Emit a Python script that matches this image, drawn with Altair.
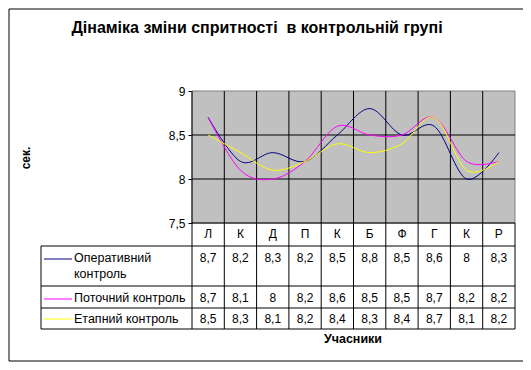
import altair as alt
import pandas as pd

categories = ["Л", "К", "Д", "П", "К", "Б", "Ф", "Г", "К", "Р"]
series_names = ["Оперативний контроль", "Поточний контроль", "Етапний контроль"]
series_labels = ["Оперативний\nконтроль", "Поточний контроль", "Етапний контроль"]
operative = [8.7, 8.2, 8.3, 8.2, 8.5, 8.8, 8.5, 8.6, 8.0, 8.3]
current = [8.7, 8.1, 8.0, 8.2, 8.6, 8.5, 8.5, 8.7, 8.2, 8.2]
stage = [8.5, 8.3, 8.1, 8.2, 8.4, 8.3, 8.4, 8.7, 8.1, 8.2]
y_ticks = [7.5, 8.0, 8.5, 9.0]
grid_values = [8.0, 8.5]
colors = ["#000080", "#FF00FF", "#FFFF00"]

title_text = "Дінаміка зміни спритності\u00a0 в контрольній групі"
y_title = "сек."
x_title = "Учасники"

W = 323
H_PLOT = 132
H = 238
FONT = "Liberation Sans"

rows = []
for s, vals in zip(series_names, [operative, current, stage]):
    for i, (c, v) in enumerate(zip(categories, vals)):
        rows.append({"series": s, "idx": i, "pos": i + 0.5, "cat": c, "value": v,
                     "label": f"{v:g}".replace(".", ",")})
df = pd.DataFrame(rows)

xs = alt.Scale(domain=[0, 10], range=[0, W], nice=False, zero=False)
ys = alt.Scale(domain=[7.5, 9], range=[H_PLOT, 0], nice=False, zero=False)
yaxis = alt.Axis(values=y_ticks, labelExpr="replace(toString(datum.value), '.', ',')",
                 grid=False, domainColor="black", tickColor="black", tickSize=4,
                 labelPadding=3, labelFont=FONT, labelFontSize=12, labelColor="black",
                 title=None, domainWidth=1, tickWidth=1)

one = pd.DataFrame({"k": [0]})
layers = []

# outer border
layers.append(alt.Chart(one).mark_rect(fillOpacity=0, stroke="black", strokeWidth=1).encode(
    x=alt.value(-183), x2=alt.value(332), y=alt.value(-82), y2=alt.value(270)))

# plot background
bg = pd.DataFrame({"x0": [0], "x1": [10], "y0": [7.5], "y1": [9.0]})
layers.append(alt.Chart(bg).mark_rect(fill="#C0C0C0", stroke="#808080", strokeWidth=1).encode(
    x=alt.X("x0:Q", scale=xs, axis=None), x2="x1:Q",
    y=alt.Y("y0:Q", scale=ys, axis=yaxis), y2="y1:Q"))

# horizontal gridlines
gdf = pd.DataFrame({"g": grid_values})
layers.append(alt.Chart(gdf).mark_rule(color="black", strokeWidth=1).encode(
    y=alt.Y("g:Q", scale=ys, axis=yaxis), x=alt.value(0), x2=alt.value(W)))

# vertical category boundaries
vdf = pd.DataFrame({"b": list(range(0, 10))})
layers.append(alt.Chart(vdf).mark_rule(color="black", strokeWidth=1).encode(
    x=alt.X("b:Q", scale=xs, axis=None), y=alt.value(0), y2=alt.value(H)))
layers.append(alt.Chart(one).mark_rule(color="black", strokeWidth=1).encode(
    x=alt.value(W), y=alt.value(H_PLOT), y2=alt.value(H)))

# table horizontal lines
layers.append(alt.Chart(one).mark_rule(color="black", strokeWidth=1).encode(
    x=alt.value(0), x2=alt.value(W), y=alt.value(H_PLOT)))
for yl in [155, 195, 217, H]:
    layers.append(alt.Chart(one).mark_rule(color="black", strokeWidth=1).encode(
        x=alt.value(-151), x2=alt.value(W), y=alt.value(yl)))
layers.append(alt.Chart(one).mark_rule(color="black", strokeWidth=1).encode(
    x=alt.value(-151), y=alt.value(155), y2=alt.value(H)))

# lines
layers.append(alt.Chart(df).mark_line(interpolate="cardinal", strokeWidth=1).encode(
    x=alt.X("pos:Q", scale=xs, axis=None),
    y=alt.Y("value:Q", scale=ys, axis=yaxis),
    color=alt.Color("series:N", scale=alt.Scale(domain=series_names, range=colors), legend=None),
    detail="series:N"))

# header row categories
layers.append(alt.Chart(df[df.series == series_names[0]]).mark_text(
    font=FONT, fontSize=12, color="black", baseline="middle").encode(
    x=alt.X("pos:Q", scale=xs, axis=None), y=alt.value(143), text="cat:N"))

row_text_y = [167, 207, 228]
key_y = [168, 208, 228]
for s, lab, ty, ky, col in zip(series_names, series_labels, row_text_y, key_y, colors):
    sub = df[df.series == s]
    layers.append(alt.Chart(sub).mark_text(
        font=FONT, fontSize=12, color="black", baseline="middle").encode(
        x=alt.X("pos:Q", scale=xs, axis=None), y=alt.value(ty), text="label:N"))
    layers.append(alt.Chart(pd.DataFrame({"t": [lab]})).mark_text(
        font=FONT, fontSize=12.5, color="black", baseline="middle", align="left",
        lineBreak="\n", lineHeight=16).encode(
        x=alt.value(-118), y=alt.value(ty), text="t:N"))
    layers.append(alt.Chart(one).mark_rule(color=col, strokeWidth=1).encode(
        x=alt.value(-148), x2=alt.value(-120), y=alt.value(ky)))

# titles
layers.append(alt.Chart(pd.DataFrame({"t": [title_text]})).mark_text(
    font=FONT, fontSize=16, fontWeight="bold", color="black", baseline="middle").encode(
    x=alt.value(65), y=alt.value(-63), text="t:N"))
layers.append(alt.Chart(pd.DataFrame({"t": [y_title]})).mark_text(
    font=FONT, fontSize=12, fontWeight="bold", color="black", baseline="middle", angle=270).encode(
    x=alt.value(-166), y=alt.value(67), text="t:N"))
layers.append(alt.Chart(pd.DataFrame({"t": [x_title]})).mark_text(
    font=FONT, fontSize=12.5, fontWeight="bold", color="black", baseline="middle").encode(
    x=alt.value(161), y=alt.value(248), text="t:N"))

chart = alt.layer(*layers).properties(
    width=W, height=H,
    autosize=alt.AutoSizeParams(type="none"),
    padding={"left": 184, "top": 83, "right": 8, "bottom": 33},
    background="white",
).configure_view(stroke=None)

chart.save("out.html", embed_options={"renderer": "svg", "actions": False})
